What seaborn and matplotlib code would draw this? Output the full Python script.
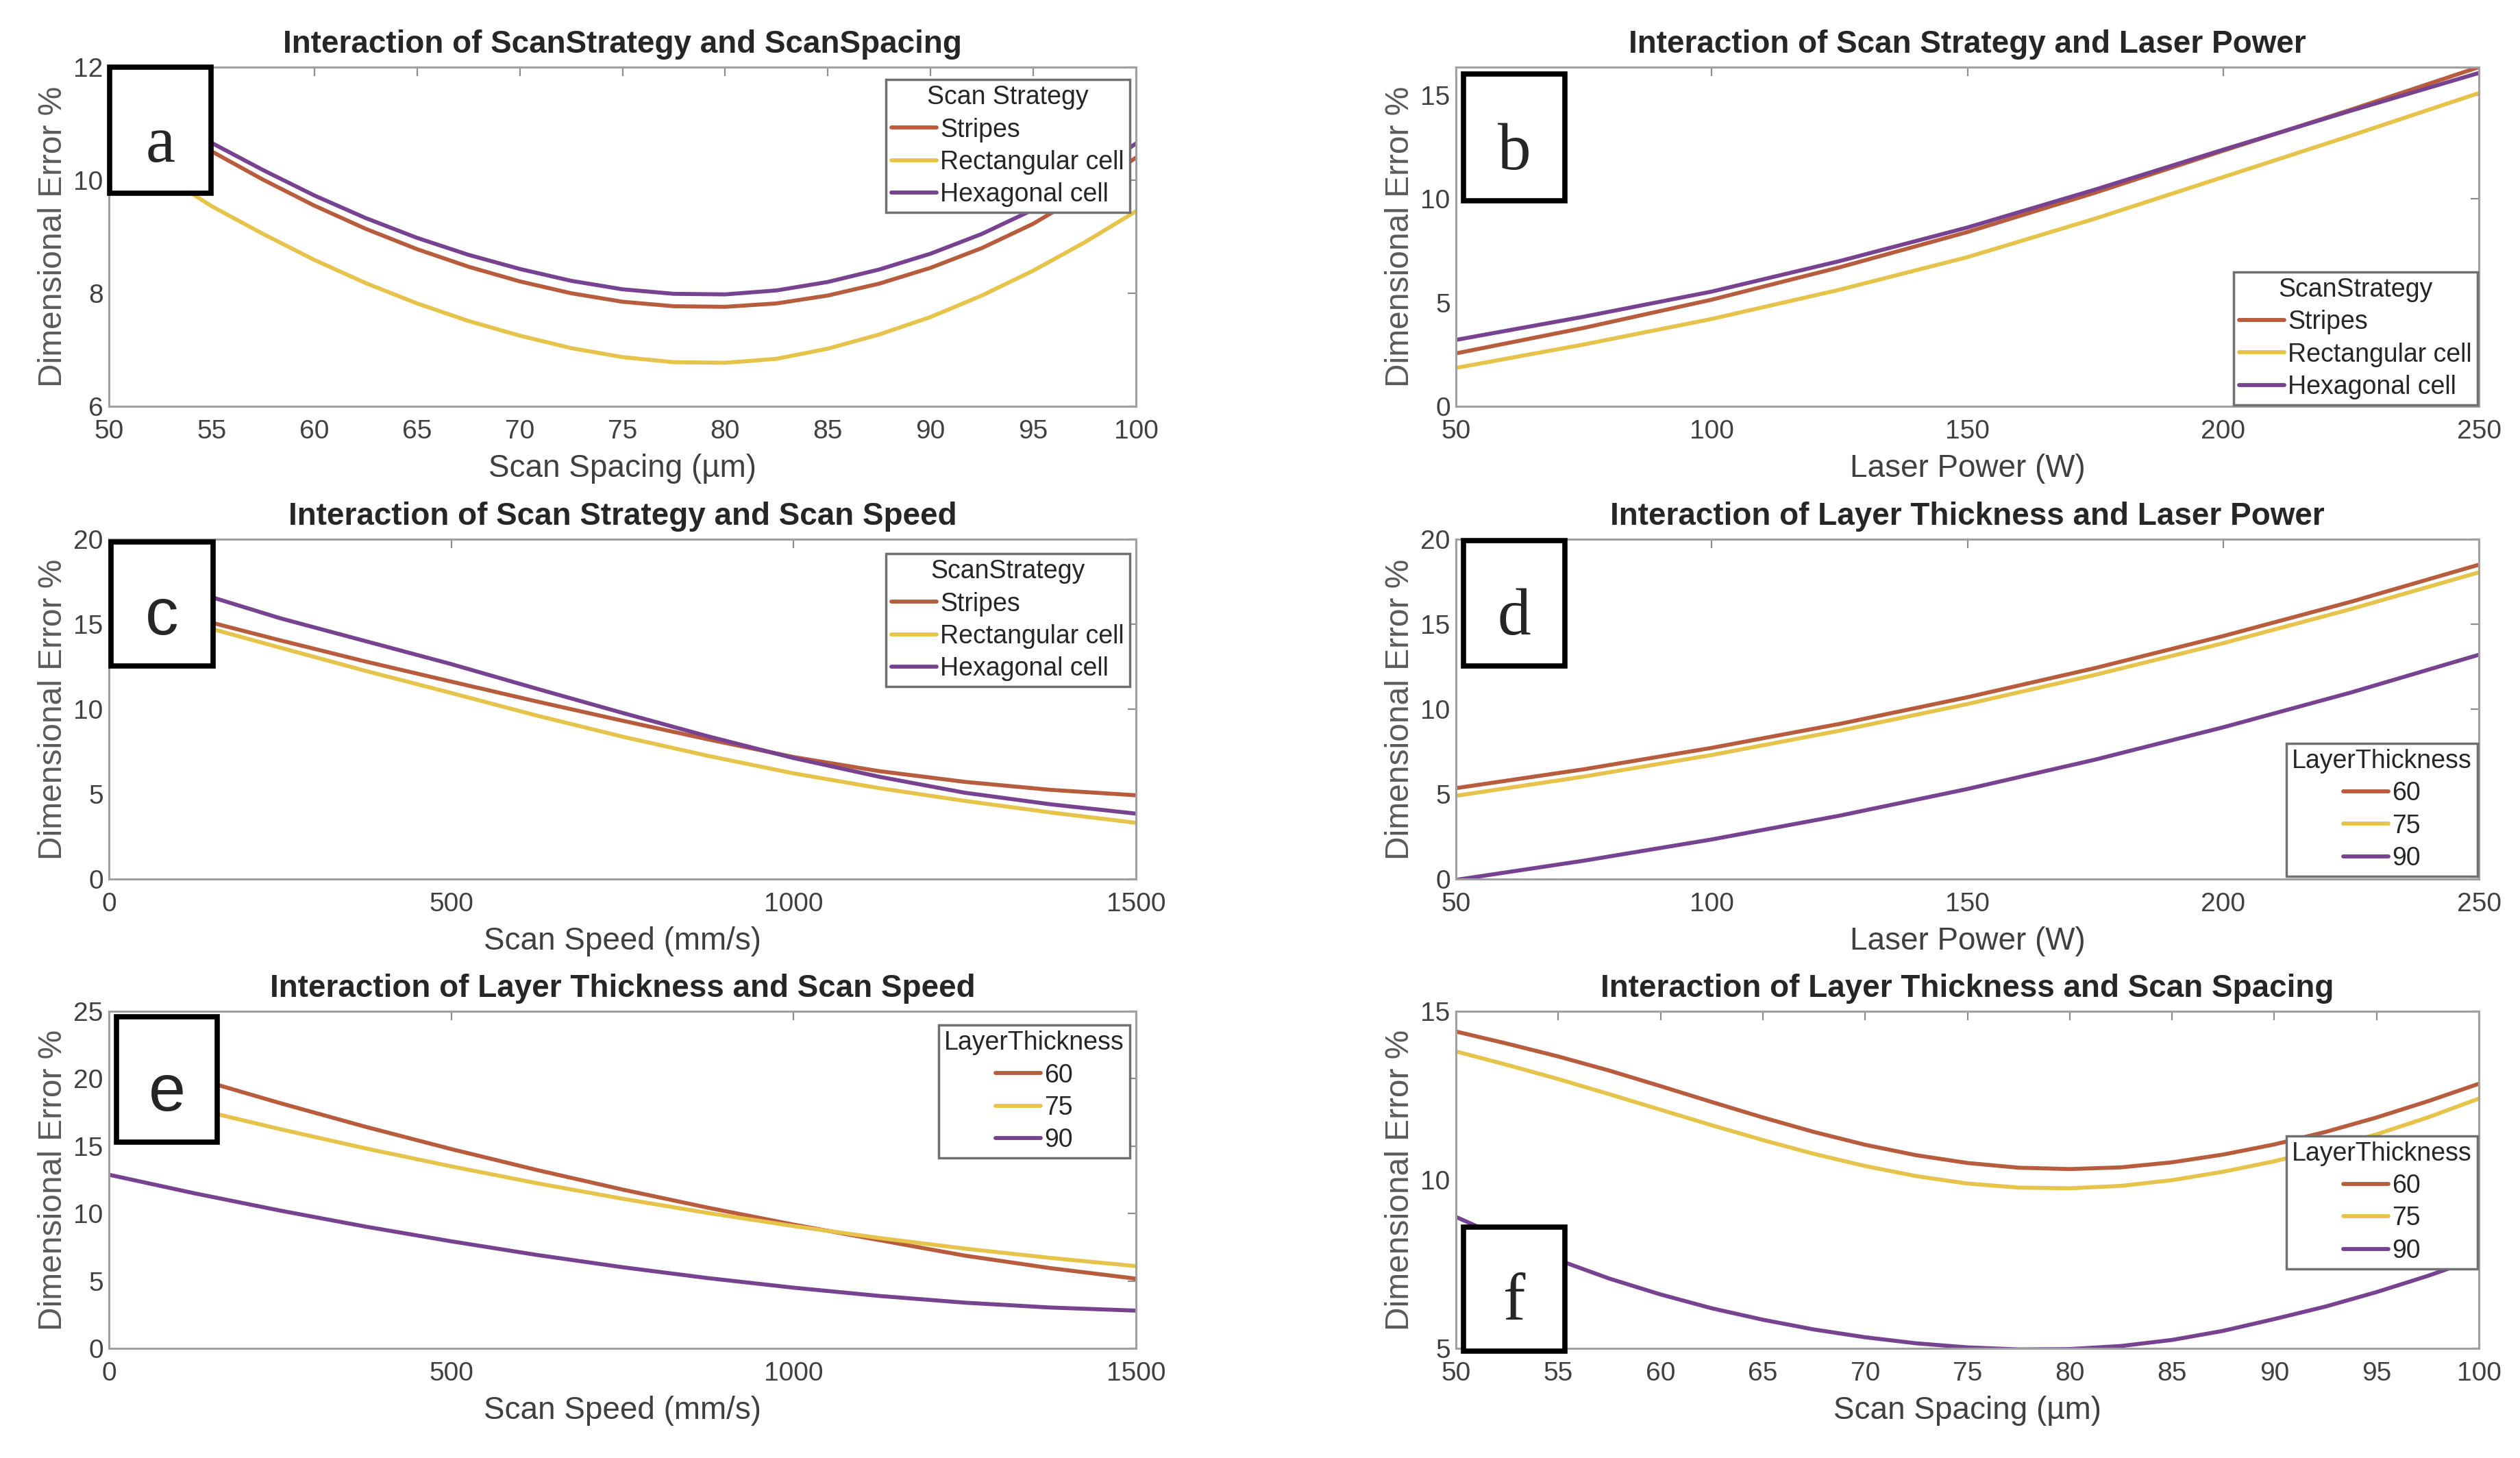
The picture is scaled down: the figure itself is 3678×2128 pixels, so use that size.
import numpy as np
import pandas as pd
import matplotlib.pyplot as plt
from matplotlib.patches import Rectangle
import seaborn as sns

# ---- values ----
strategies = ['Stripes', 'Rectangular cell', 'Hexagonal cell']
layers = ['60', '75', '90']

# (a) scan strategy x scan spacing
a_x = [50, 52.5, 55, 57.5, 60, 62.5, 65, 67.5, 70, 72.5, 75, 77.5, 80, 82.5, 85, 87.5, 90, 92.5, 95, 97.5, 100]
a_stripes = [11.75, 11.10, 10.51, 10.01, 9.55, 9.14, 8.78, 8.47, 8.21, 8.00, 7.85, 7.77, 7.76,
             7.82, 7.96, 8.17, 8.45, 8.80, 9.23, 9.77, 10.40]
a_rect = [10.78, 10.12, 9.54, 9.05, 8.59, 8.18, 7.82, 7.51, 7.25, 7.03, 6.87, 6.78, 6.77,
          6.84, 7.02, 7.27, 7.58, 7.96, 8.40, 8.90, 9.45]
a_hex = [11.90, 11.25, 10.66, 10.18, 9.73, 9.33, 8.98, 8.68, 8.43, 8.22, 8.07, 7.99, 7.98,
         8.05, 8.20, 8.42, 8.70, 9.05, 9.48, 10.02, 10.65]

# (b) scan strategy x laser power
b_x = [50, 75, 100, 125, 150, 175, 200, 225, 250]
b_stripes = [2.55, 3.78, 5.14, 6.70, 8.40, 10.30, 12.32, 14.30, 16.35]
b_rect = [1.85, 2.98, 4.21, 5.62, 7.19, 9.05, 11.05, 13.05, 15.10]
b_hex = [3.20, 4.32, 5.53, 7.00, 8.62, 10.45, 12.37, 14.25, 16.07]

# (c) scan strategy x scan speed
c_x = [0, 125, 250, 375, 500, 625, 750, 875, 1000, 1125, 1250, 1375, 1500]
c_stripes = [16.70, 15.35, 14.05, 12.80, 11.62, 10.45, 9.32, 8.22, 7.18, 6.35, 5.72, 5.25, 4.93]
c_rect = [16.45, 15.00, 13.62, 12.25, 10.95, 9.62, 8.38, 7.25, 6.22, 5.35, 4.60, 3.92, 3.31]
c_hex = [18.40, 16.90, 15.35, 14.00, 12.65, 11.20, 9.78, 8.40, 7.12, 6.02, 5.08, 4.40, 3.85]

# (d) layer thickness x laser power
d_x = [50, 75, 100, 125, 150, 175, 200, 225, 250]
d_60 = [5.35, 6.46, 7.72, 9.13, 10.70, 12.42, 14.30, 16.32, 18.50]
d_75 = [4.90, 6.03, 7.30, 8.73, 10.30, 12.02, 13.88, 15.89, 18.05]
d_90 = [-0.05, 1.08, 2.33, 3.73, 5.30, 7.03, 8.93, 10.98, 13.20]

# (e) layer thickness x scan speed (60 and 75 start under the panel tag)
e_x = [0, 125, 250, 375, 500, 625, 750, 875, 1000, 1125, 1250, 1375, 1500]
e_60 = [np.nan, 20.04, 18.19, 16.43, 14.78, 13.23, 11.78, 10.43, 9.18, 8.03, 6.88, 5.95, 5.17]
e_75 = [np.nan, 17.77, 16.26, 14.83, 13.50, 12.25, 11.10, 10.04, 9.07, 8.19, 7.40, 6.71, 6.10]
e_90 = [12.88, 11.50, 10.22, 9.03, 7.94, 6.93, 6.02, 5.21, 4.50, 3.89, 3.39, 3.03, 2.80]

# (f) layer thickness x scan spacing
f_x = [50, 52.5, 55, 57.5, 60, 62.5, 65, 67.5, 70, 72.5, 75, 77.5, 80, 82.5, 85, 87.5, 90, 92.5, 95, 97.5, 100]
f_60 = [14.40, 14.04, 13.66, 13.24, 12.78, 12.31, 11.85, 11.42, 11.04, 10.73, 10.50, 10.36, 10.32,
        10.37, 10.52, 10.75, 11.05, 11.42, 11.85, 12.33, 12.85]
f_75 = [13.81, 13.41, 12.99, 12.54, 12.08, 11.62, 11.18, 10.77, 10.41, 10.11, 9.89, 9.77, 9.75,
        9.82, 9.99, 10.24, 10.55, 10.92, 11.35, 11.85, 12.41]
f_90 = [8.90, 8.22, 7.62, 7.07, 6.60, 6.19, 5.85, 5.56, 5.33, 5.15, 5.03, 4.97, 4.98,
        5.07, 5.25, 5.52, 5.87, 6.24, 6.67, 7.15, 7.68]

colors = ['#B85C3E', '#E6C34A', '#77428F']

W, H = 3678, 2128
sns.set_style('white')
plt.rcParams['font.family'] = ['Liberation Sans', 'DejaVu Sans']

fig = plt.figure(figsize=(W / 100, H / 100), dpi=100)


def long_df(x, groups, series):
    rows = []
    for g, ys in zip(groups, series):
        for xi, yi in zip(x, ys):
            rows.append({'x': xi, 'y': yi, 'grp': g})
    return pd.DataFrame(rows).dropna()


panels = [
    dict(box=(159, 98, 1658, 593), df=long_df(a_x, strategies, [a_stripes, a_rect, a_hex]),
         groups=strategies, title='Interaction of ScanStrategy and ScanSpacing', leg_title='Scan Strategy',
         xlabel='Scan Spacing (\u00b5m)', xlim=(50, 100), xticks=range(50, 101, 5),
         ylim=(6, 12), yticks=[6, 8, 10, 12], leg=('upper right', 1649, 116),
         tag='a', tag_box=(160, 98, 308, 282), tag_font='Liberation Serif'),
    dict(box=(2125, 98, 3618, 593), df=long_df(b_x, strategies, [b_stripes, b_rect, b_hex]),
         groups=strategies, title='Interaction of Scan Strategy and Laser Power', leg_title='ScanStrategy',
         xlabel='Laser Power (W)', xlim=(50, 250), xticks=range(50, 251, 50),
         ylim=(0, 16.35), yticks=[0, 5, 10, 15], leg=('lower right', 3616, 591),
         tag='b', tag_box=(2136, 108, 2284, 293), tag_font='Liberation Serif'),
    dict(box=(159, 787, 1658, 1283), df=long_df(c_x, strategies, [c_stripes, c_rect, c_hex]),
         groups=strategies, title='Interaction of Scan Strategy and Scan Speed', leg_title='ScanStrategy',
         xlabel='Scan Speed (mm/s)', xlim=(0, 1500), xticks=[0, 500, 1000, 1500],
         ylim=(0, 20), yticks=[0, 5, 10, 15, 20], leg=('upper right', 1649, 808),
         tag='c', tag_box=(162, 791, 311, 972), tag_font='Liberation Sans'),
    dict(box=(2125, 787, 3618, 1283), df=long_df(d_x, layers, [d_60, d_75, d_90]),
         groups=layers, title='Interaction of Layer Thickness and Laser Power', leg_title='LayerThickness',
         xlabel='Laser Power (W)', xlim=(50, 250), xticks=range(50, 251, 50),
         ylim=(0, 20), yticks=[0, 5, 10, 15, 20], leg=('lower right', 3616, 1279),
         tag='d', tag_box=(2136, 789, 2284, 972), tag_font='Liberation Serif'),
    dict(box=(159, 1476, 1658, 1968), df=long_df(e_x, layers, [e_60, e_75, e_90]),
         groups=layers, title='Interaction of Layer Thickness and Scan Speed', leg_title='LayerThickness',
         xlabel='Scan Speed (mm/s)', xlim=(0, 1500), xticks=[0, 500, 1000, 1500],
         ylim=(0, 25), yticks=[0, 5, 10, 15, 20, 25], leg=('upper right', 1649, 1496),
         tag='e', tag_box=(170, 1484, 317, 1667), tag_font='Liberation Sans'),
    dict(box=(2125, 1476, 3618, 1968), df=long_df(f_x, layers, [f_60, f_75, f_90]),
         groups=layers, title='Interaction of Layer Thickness and Scan Spacing', leg_title='LayerThickness',
         xlabel='Scan Spacing (\u00b5m)', xlim=(50, 100), xticks=range(50, 101, 5),
         ylim=(5, 15), yticks=[5, 10, 15], leg=('lower right', 3616, 1852),
         tag='f', tag_box=(2136, 1791, 2284, 1972), tag_font='Liberation Serif'),
]

for p in panels:
    l, t, r, b = p['box']
    ax = fig.add_axes([l / W, 1 - b / H, (r - l) / W, (b - t) / H])
    sns.lineplot(data=p['df'], x='x', y='y', hue='grp', hue_order=p['groups'],
                 palette=dict(zip(p['groups'], colors)), linewidth=4.2, ax=ax)
    ax.set_xlim(*p['xlim'])
    ax.set_ylim(*p['ylim'])
    ax.set_xticks(list(p['xticks']))
    ax.set_yticks(p['yticks'])
    ax.set_title(p['title'], fontsize=33, fontweight='bold', pad=15)
    ax.set_xlabel(p['xlabel'], fontsize=33, color='#404040', labelpad=10)
    ax.set_ylabel('Dimensional Error %', fontsize=34.5, color='#5a5a5a', labelpad=5)
    ax.tick_params(direction='in', length=9, width=1.6, top=True, right=True,
                   color='#8c8c8c', labelcolor='#404040', labelsize=28)
    ax.tick_params(axis='x', pad=14)
    ax.tick_params(axis='y', pad=6)
    for s in ax.spines.values():
        s.set_color('#a0a0a0')
        s.set_linewidth(2.2)

    loc, lx, ly = p['leg']
    anchor = ((lx - l) / (r - l), (b - ly) / (b - t))
    sns.move_legend(ax, loc, bbox_to_anchor=anchor, borderaxespad=0, title=p['leg_title'],
                    fontsize=27, title_fontsize=27, frameon=True, fancybox=False, framealpha=1,
                    edgecolor='#707070', handlelength=1.75, handletextpad=0.15,
                    labelspacing=0.3, borderpad=0.22)
    leg = ax.get_legend()
    leg.get_frame().set_linewidth(2.5)
    for h in leg.legend_handles:
        h.set_linewidth(4.2)
    for txt in leg.get_texts():
        txt.set_color('#262626')

    # panel letter box
    x0, y0, x1, y1 = p['tag_box']
    fig.add_artist(Rectangle((x0 / W, 1 - y1 / H), (x1 - x0) / W, (y1 - y0) / H,
                             transform=fig.transFigure, facecolor='white',
                             edgecolor='black', linewidth=5.5, zorder=5))
    fig.text((x0 + x1) / 2 / W, 1 - (y1 - 46) / H, p['tag'], fontsize=70,
             family=p['tag_font'], ha='center', va='baseline', zorder=6)

fig.savefig('out.png', dpi=100, facecolor='white')
